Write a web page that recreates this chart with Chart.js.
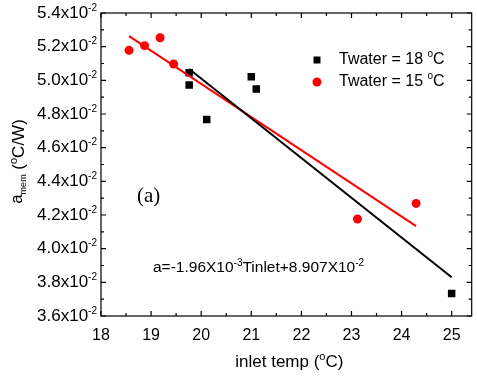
<!DOCTYPE html>
<html>
<head>
<meta charset="utf-8">
<script src="https://cdn.jsdelivr.net/npm/chart.js@4.4.1/dist/chart.umd.min.js"></script>
<style>
  body { margin: 0; background: #fff; }
  #wrap { width: 477px; height: 376px; position: relative; }
</style>
</head>
<body>
<div id="wrap"><canvas id="myChart"></canvas></div>
<script>
// data
const x18 = [19.76, 19.76, 20.11, 21.0, 21.1, 25.0];
const y18 = [0.05045, 0.04972, 0.04768, 0.05022, 0.04948, 0.03734];
const x15 = [18.56, 18.87, 19.18, 19.45, 23.12, 24.29];
const y15 = [0.05178, 0.05206, 0.05253, 0.05097, 0.04176, 0.04269];
const fit18X = [19.76, 25.0];
const fit18Y = [0.05067, 0.0383];
const fit15X = [18.56, 24.29];
const fit15Y = [0.05263, 0.04134];
const xTicks = [18, 19, 20, 21, 22, 23, 24, 25];
const yTicks = [0.036, 0.038, 0.040, 0.042, 0.044, 0.046, 0.048, 0.050, 0.052, 0.054];
const seriesNames = ['Twater = 18 ', 'Twater = 15 '];

function pts(xs, ys) {
  return xs.map((x, i) => ({ x: x, y: ys[i] }));
}

const FONT = '"Liberation Sans", Arial, sans-serif';

// draws a row of text pieces, some raised or lowered
function drawParts(ctx, parts, x, y, align) {
  let w = 0;
  parts.forEach(p => { ctx.font = p.size + 'px ' + (p.family || FONT); p.w = ctx.measureText(p.t).width; w += p.w; });
  let cx = align === 'right' ? x - w : align === 'center' ? x - w / 2 : x;
  ctx.textAlign = 'left';
  parts.forEach(p => {
    ctx.font = p.size + 'px ' + (p.family || FONT);
    ctx.fillText(p.t, cx, y + (p.dy || 0));
    cx += p.w;
  });
}

const framePlugin = {
  id: 'frame',
  afterDraw(chart) {
    const ctx = chart.ctx;
    const a = chart.chartArea;
    const xs = chart.scales.x, ys = chart.scales.y;
    ctx.save();
    ctx.strokeStyle = '#000';
    ctx.fillStyle = '#000';
    ctx.lineWidth = 1.2;
    ctx.strokeRect(a.left, a.top, a.right - a.left, a.bottom - a.top);

    // ticks on all sides, pointing in
    ctx.beginPath();
    xTicks.forEach((v, i) => {
      const maj = xs.getPixelForValue(v);
      [[maj, 5], [xs.getPixelForValue(v + 0.5), 3]].forEach(([px, len]) => {
        if (px > a.right - 1) return;
        ctx.moveTo(px, a.bottom); ctx.lineTo(px, a.bottom - len);
        ctx.moveTo(px, a.top); ctx.lineTo(px, a.top + len);
      });
    });
    yTicks.forEach((v, i) => {
      const list = [[ys.getPixelForValue(v), 5]];
      if (i < yTicks.length - 1) list.push([ys.getPixelForValue(v + 0.001), 3]);
      list.forEach(([py, len]) => {
        ctx.moveTo(a.left, py); ctx.lineTo(a.left + len, py);
        ctx.moveTo(a.right, py); ctx.lineTo(a.right - len, py);
      });
    });
    ctx.stroke();

    // y tick labels with superscript
    ctx.textBaseline = 'middle';
    yTicks.forEach(v => {
      const py = ys.getPixelForValue(v);
      drawParts(ctx, [
        { t: (v * 100).toFixed(1) + 'x10', size: 17 },
        { t: '-2', size: 10, dy: -5 }
      ], a.left - 4, py, 'right');
    });

    // x title
    ctx.textBaseline = 'alphabetic';
    drawParts(ctx, [
      { t: 'inlet temp (', size: 17 },
      { t: 'o', size: 11, dy: -7 },
      { t: 'C)', size: 17 }
    ], (a.left + a.right) / 2 + 3, 367, 'center');

    // y title
    ctx.save();
    ctx.translate(24, (a.top + a.bottom) / 2 - 3);
    ctx.rotate(-Math.PI / 2);
    drawParts(ctx, [
      { t: 'a', size: 17, dy: -2 },
      { t: 'mem', size: 9, dy: 2 },
      { t: ' (', size: 17 },
      { t: 'o', size: 11, dy: -7 },
      { t: 'C/W)', size: 17 }
    ], 0, 0, 'center');
    ctx.restore();

    // legend
    ctx.textBaseline = 'middle';
    ctx.fillStyle = '#000';
    ctx.fillRect(313.5, 56.5, 7, 7);
    ctx.fillStyle = '#ff0000';
    ctx.beginPath(); ctx.arc(317, 82, 4.5, 0, Math.PI * 2); ctx.fill();
    ctx.fillStyle = '#000';
    [60, 82].forEach((ly, i) => {
      drawParts(ctx, [
        { t: seriesNames[i], size: 16 },
        { t: 'o', size: 10, dy: -6 },
        { t: 'C', size: 16 }
      ], 339, ly, 'left');
    });

    // annotations
    ctx.font = '21px "Liberation Serif", "Times New Roman", serif';
    ctx.textAlign = 'left';
    ctx.fillText('(a)', 137, 196);
    drawParts(ctx, [
      { t: 'a=-1.96X10', size: 15.5 },
      { t: '-3', size: 10, dy: -5 },
      { t: 'Tinlet+8.907X10', size: 15.5 },
      { t: '-2', size: 10, dy: -5 }
    ], 153, 268, 'left');
    ctx.restore();
  }
};

const ctx = document.getElementById('myChart');
new Chart(ctx, {
  type: 'scatter',
  data: {
    datasets: [{
      label: 'fit 18',
      type: 'line',
      data: pts(fit18X, fit18Y),
      borderColor: '#000',
      borderWidth: 2,
      pointRadius: 0,
      fill: false
    }, {
      label: 'fit 15',
      type: 'line',
      data: pts(fit15X, fit15Y),
      borderColor: '#ff0000',
      borderWidth: 2,
      pointRadius: 0,
      fill: false
    }, {
      label: seriesNames[0],
      data: pts(x18, y18),
      pointStyle: 'rect',
      pointRadius: 5.3,
      backgroundColor: '#000',
      borderWidth: 0
    }, {
      label: seriesNames[1],
      data: pts(x15, y15),
      pointStyle: 'circle',
      pointRadius: 4.5,
      backgroundColor: '#ff0000',
      borderWidth: 0
    }]
  },
  options: {
    responsive: true,
    maintainAspectRatio: false,
    animation: false,
    layout: { padding: { top: 13, right: 4, left: 0, bottom: 0 } },
    plugins: { legend: { display: false }, tooltip: { enabled: false } },
    scales: {
      x: {
        type: 'linear',
        min: 18,
        max: 25.4,
        grid: { display: false },
        border: { display: false },
        afterBuildTicks: s => { s.ticks = xTicks.map(v => ({ value: v })); },
        afterFit: s => { s.height = 60; },
        ticks: {
          color: '#000',
          padding: 2,
          maxRotation: 0,
          font: { family: FONT, size: 16 }
        }
      },
      y: {
        type: 'linear',
        min: 0.036,
        max: 0.054,
        grid: { display: false },
        border: { display: false },
        afterBuildTicks: s => { s.ticks = yTicks.map(v => ({ value: v })); },
        afterFit: s => { s.width = 101; },
        ticks: { display: false }
      }
    }
  },
  plugins: [framePlugin]
});
</script>
</body>
</html>
